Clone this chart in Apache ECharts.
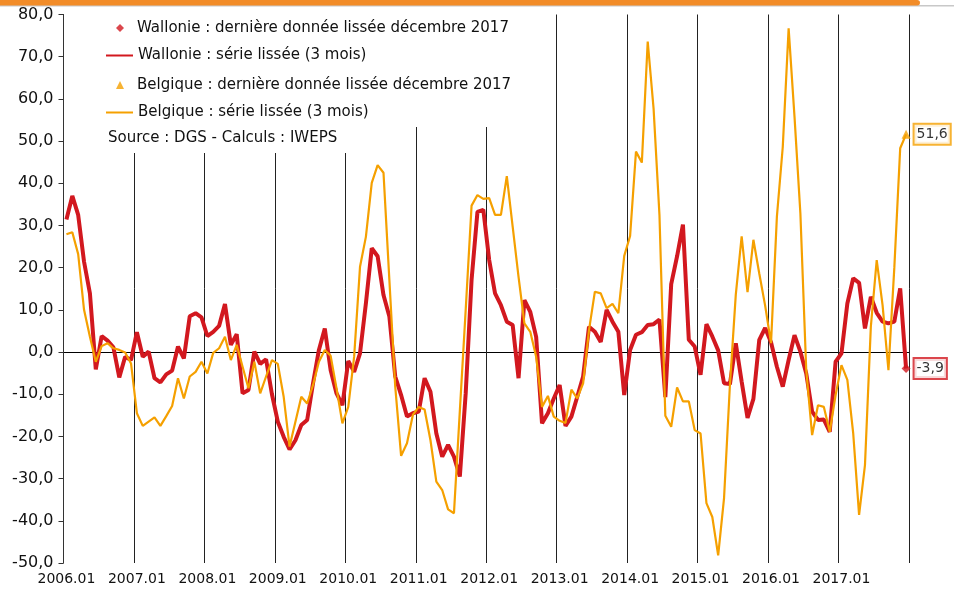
<!DOCTYPE html>
<html><head><meta charset="utf-8">
<script src="https://cdn.jsdelivr.net/npm/echarts@6/dist/echarts.min.js"></script>
<style>html,body{margin:0;padding:0;background:#fff}#c{width:954px;height:593px}</style>
</head><body><div id="c"></div>
<script>
// Categories: monthly, 2006.01 .. 2017.12
const years = [2006,2007,2008,2009,2010,2011,2012,2013,2014,2015,2016,2017];
const monthCodes = ['01','02','03','04','05','06','07','08','09','10','11','12'];
const months = [];
years.forEach(y => monthCodes.forEach(m => months.push(y + '.' + m)));

// Wallonie : série lissée (3 mois)
const wallonie = [
  31.4, 37.0, 32.5, 21.4, 13.9, -4.1, 3.8, 2.7, 1.1, -6.0, -1.1, -1.9,
  4.7, -1.1, 0.1, -6.2, -7.2, -5.3, -4.4, 1.3, -1.5, 8.5, 9.2, 8.2,
  3.8, 4.8, 6.2, 11.4, 1.7, 4.2, -9.8, -9.0, 0.1, -2.8, -1.7, -10.0,
  -16.5, -20.1, -23.1, -20.9, -17.3, -16.1, -7.4, 0.5, 5.6, -4.3, -9.8, -12.6,
  -2.1, -4.7, -0.3, 11.5, 24.6, 22.7, 13.5, 8.4, -5.8, -10.2, -15.3, -14.5,
  -14.1, -6.2, -9.4, -19.3, -24.8, -22.0, -24.8, -29.5, -9.8, 17.1, 33.2, 33.7,
  21.8, 13.9, 11.1, 7.2, 6.4, -6.2, 12.3, 9.5, 3.6, -16.9, -14.5, -11.0,
  -7.8, -17.5, -15.3, -10.6, -5.8, 6.0, 4.8, 2.4, 10.0, 7.2, 4.8, -10.2,
  0.5, 4.1, 4.7, 6.4, 6.6, 7.7, -10.7, 16.1, 22.7, 30.2, 2.9, 1.3,
  -5.4, 6.6, 3.7, 0.4, -7.4, -7.6, 2.1, -7.0, -15.6, -11.1, 2.9, 5.7,
  2.3, -3.5, -8.2, -1.9, 4.0, 0.1, -5.1, -14.1, -16.1, -16.0, -18.9, -2.3,
  -0.3, 11.5, 17.5, 16.4, 5.6, 13.1, 9.3, 7.2, 6.8, 7.2, 15.1, -3.9
];

// Belgique : série lissée (3 mois)
const belgique = [
  27.9, 28.4, 23.2, 10.0, 3.6, -2.3, 1.4, 2.1, 0.9, 0.5, -0.1, -2.7,
  -14.5, -17.5, -16.5, -15.5, -17.5, -15.2, -12.8, -6.2, -11.0, -5.8, -4.7, -2.3,
  -5.1, -0.2, 0.9, 3.6, -1.9, 1.7, -3.5, -8.6, -2.3, -9.8, -5.8, -1.9,
  -2.8, -10.6, -22.4, -16.5, -10.6, -12.2, -7.8, -2.3, 0.5, -0.9, -8.6, -16.9,
  -13.0, -1.1, 20.2, 27.3, 40.1, 44.3, 42.5, 17.1, -8.2, -24.6, -21.6, -14.9,
  -13.0, -13.6, -20.9, -30.7, -32.7, -37.3, -38.2, -14.0, 10.0, 34.7, 37.2, 36.3,
  36.5, 32.5, 32.5, 41.7, 29.7, 17.8, 6.8, 4.8, -1.1, -13.0, -10.4, -15.3,
  -16.3, -16.8, -8.9, -11.0, -7.4, 5.2, 14.3, 13.9, 10.4, 11.4, 9.2, 22.8,
  27.5, 47.5, 44.9, 73.6, 57.7, 32.5, -15.1, -17.7, -8.4, -11.7, -11.7, -18.5,
  -19.3, -35.8, -39.1, -48.2, -34.6, -7.8, 13.6, 27.4, 14.2, 26.6, 18.6, 11.0,
  2.1, 32.1, 48.6, 76.7, 55.8, 32.9, -4.3, -19.7, -12.6, -13.0, -18.9, -10.2,
  -3.1, -6.6, -19.3, -38.6, -26.8, 6.0, 21.8, 11.1, -4.3, 20.0, 48.3, 51.6
];

const seriesNames = {
  wDot: 'Wallonie : dernière donnée lissée décembre 2017',
  wLine: 'Wallonie : série lissée (3 mois)',
  bDot: 'Belgique : dernière donnée lissée décembre 2017',
  bLine: 'Belgique : série lissée (3 mois)'
};
const sourceText = 'Source : DGS - Calculs : IWEPS';

const RED = '#D2181F';
const ORANGE = '#F5A000';
const FONT = 'DejaVu Sans';
const TXT = '#111';
const last = months.length - 1;
const fmt = v => Number(v).toFixed(1).replace('.', ',');

// only the zero line is visible among horizontal split lines (ticks -50..80)
const zeroLineColors = [];
for (let v = -50; v <= 80; v += 10) zeroLineColors.push(v === 0 ? '#000' : 'rgba(0,0,0,0)');

const legendText = {fontFamily: FONT, fontSize: 15, color: TXT};
function lg(name, left, top, w, h, extra) {
  return Object.assign({data: [name], orient: 'vertical', left: left, top: top, padding: 0,
    itemWidth: w, itemHeight: h, selectedMode: false,
    textStyle: Object.assign({}, legendText)}, extra || {});
}

const chart = echarts.init(document.getElementById('c'), null, {renderer: 'canvas'});
chart.setOption({
  animation: false,
  backgroundColor: '#fff',
  grid: {left: 63.5, right: 45, top: 14.5, bottom: 30, containLabel: false},
  legend: [
    lg(seriesNames.wDot, 116, 20.5, 8, 8, {textStyle: Object.assign({}, legendText, {padding: [0, 0, 0, 8]})}),
    lg(seriesNames.wLine, 105, 48, 27, 14, {itemStyle: {opacity: 0}}),
    lg(seriesNames.bDot, 116, 77.5, 8, 8, {textStyle: Object.assign({}, legendText, {padding: [0, 0, 0, 8]})}),
    lg(seriesNames.bLine, 105, 105, 27, 14, {itemStyle: {opacity: 0}})
  ],
  graphic: [
    {type: 'rect', z: 10, shape: {x: 0, y: 5, width: 954, height: 1.5}, style: {fill: '#C8C8C8'}},
    {type: 'rect', z: 11, shape: {x: 0, y: 0, width: 920, height: 5.5, r: [0, 3, 3, 0]}, style: {fill: '#F28C28'}},
    {type: 'rect', z: 1, shape: {x: 65, y: 11, width: 451, height: 116}, style: {fill: '#fff'}},
    {type: 'rect', z: 1, shape: {x: 65, y: 126, width: 347, height: 27}, style: {fill: '#fff'}},
    {type: 'text', z: 12, left: 108, top: 130.5, style: {text: sourceText, font: '15px "DejaVu Sans"', fill: TXT}}
  ],
  xAxis: {
    type: 'category', data: months, boundaryGap: true,
    axisLine: {show: false, onZero: false},
    axisTick: {show: false, interval: 11},
    axisLabel: {interval: 11, margin: 9, fontFamily: FONT, fontSize: 14, color: TXT},
    splitLine: {show: true, interval: 11, lineStyle: {color: '#222', width: 1}}
  },
  yAxis: {
    type: 'value', min: -50, max: 80, interval: 10,
    axisLine: {show: true, lineStyle: {color: '#333', width: 1}},
    axisTick: {show: true, inside: false, length: 5, lineStyle: {color: '#333'}},
    axisLabel: {margin: 10, formatter: fmt, fontFamily: FONT, fontSize: 16, color: TXT},
    splitLine: {show: true, lineStyle: {color: zeroLineColors, width: 1}}
  },
  series: [
    {name: seriesNames.wLine, type: 'line', data: wallonie, symbol: 'none', z: 3,
     lineStyle: {color: RED, width: 4}, itemStyle: {color: RED}},
    {name: seriesNames.bLine, type: 'line', data: belgique, symbol: 'none', z: 4,
     lineStyle: {color: ORANGE, width: 2.2}, itemStyle: {color: ORANGE}},
    {name: seriesNames.wDot, type: 'scatter', symbol: 'diamond', symbolSize: 9, z: 5,
     data: [[months[last], wallonie[last]]], itemStyle: {color: RED},
     label: {show: true, position: 'right', distance: 4, formatter: p => fmt(p.value[1]),
       fontFamily: FONT, fontSize: 14, color: '#000', backgroundColor: '#fff',
       borderColor: RED, borderWidth: 2, padding: [3, 2, 2, 2]}},
    {name: seriesNames.bDot, type: 'scatter', symbol: 'triangle', symbolSize: 9, z: 5,
     data: [[months[last], belgique[last]]], itemStyle: {color: ORANGE},
     label: {show: true, position: 'right', distance: 4, formatter: p => fmt(p.value[1]),
       fontFamily: FONT, fontSize: 14, color: '#000', backgroundColor: '#fff',
       borderColor: ORANGE, borderWidth: 2, padding: [3, 2, 2, 2]}}
  ]
});
</script></body></html>
